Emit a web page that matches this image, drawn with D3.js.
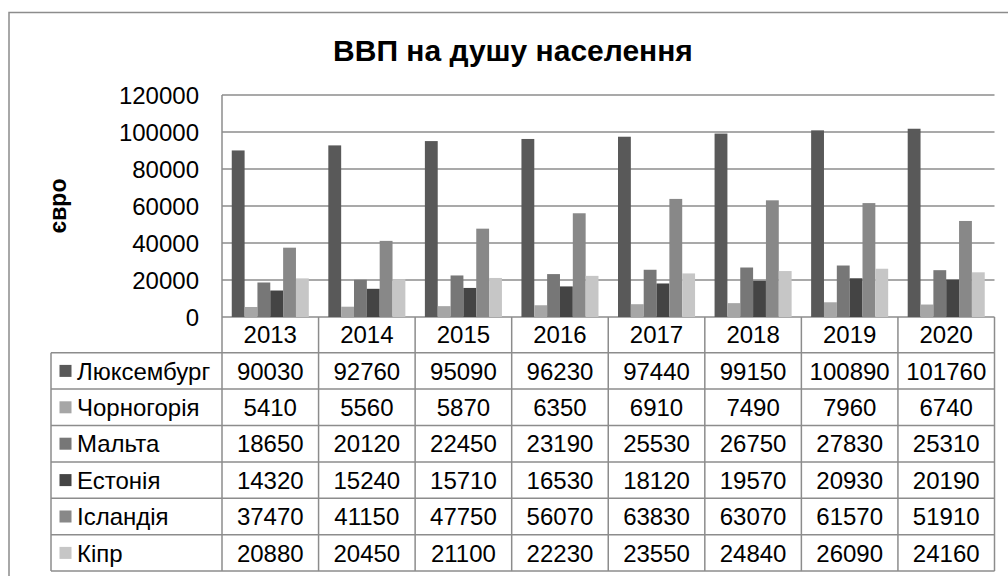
<!DOCTYPE html>
<html><head><meta charset="utf-8">
<script src="https://cdn.jsdelivr.net/npm/d3@7"></script>
<style>body{margin:0;background:#fff}svg{display:block}text{font-family:"Liberation Sans",Arial,sans-serif}</style>
</head><body>
<svg id="c" width="1008" height="576"></svg>
<script>
const years = ["2013","2014","2015","2016","2017","2018","2019","2020"];
const seriesNames = ["Люксембург","Чорногорія","Мальта","Естонія","Ісландія","Кіпр"];
const luxembourg = [90030,92760,95090,96230,97440,99150,100890,101760];
const montenegro = [5410,5560,5870,6350,6910,7490,7960,6740];
const malta = [18650,20120,22450,23190,25530,26750,27830,25310];
const estonia = [14320,15240,15710,16530,18120,19570,20930,20190];
const iceland = [37470,41150,47750,56070,63830,63070,61570,51910];
const cyprus = [20880,20450,21100,22230,23550,24840,26090,24160];
const yTicks = [0,20000,40000,60000,80000,100000,120000];
const seriesValues = [luxembourg, montenegro, malta, estonia, iceland, cyprus];
const colors = ["#595959","#a6a6a6","#777777","#444444","#888888","#c6c6c6"];

const svg = d3.select("#c");
const L = 222, R = 994.5, T = 95, B = 317;
const rowH = 36.4, legL = 51;
const lineCol = "#8c8c8c";
const fs = 24;

// outer border
svg.append("rect").attr("x",9).attr("y",12.5).attr("width",1100).attr("height",700)
  .attr("fill","none").attr("stroke","#8c8c8c").attr("stroke-width",1.5);

svg.append("text").attr("x",513).attr("y",61).attr("text-anchor","middle")
  .attr("font-size",30).attr("font-weight","bold").text("ВВП на душу населення");

const x0 = d3.scaleBand().domain(years).range([L,R]).paddingInner(0).paddingOuter(0);
const x1 = d3.scaleBand().domain(d3.range(seriesNames.length)).range([0,x0.bandwidth()]).paddingOuter(0.76).paddingInner(0);
const y = d3.scaleLinear().domain([0,120000]).range([B,T]);

// gridlines
svg.append("g").selectAll("line").data(yTicks).join("line")
  .attr("x1",L).attr("x2",R).attr("y1",d=>y(d)).attr("y2",d=>y(d))
  .attr("stroke",lineCol).attr("stroke-width",1.5);
svg.append("line").attr("x1",L).attr("x2",L).attr("y1",T).attr("y2",B).attr("stroke",lineCol).attr("stroke-width",1.5);

// y tick labels
svg.append("g").selectAll("text").data(yTicks).join("text")
  .attr("x",199).attr("y",d=>y(d)).attr("dy","0.36em").attr("text-anchor","end")
  .attr("font-size",fs).text(d=>d);

svg.append("text").attr("transform","translate(66,206) rotate(-90)").attr("text-anchor","middle")
  .attr("font-size",23).attr("font-weight","bold").text("євро");

// bars
seriesValues.forEach((vals,si)=>{
  svg.append("g").selectAll("rect").data(vals).join("rect")
    .attr("x",(d,i)=>x0(years[i])+x1(si)).attr("width",x1.bandwidth())
    .attr("y",d=>y(d)).attr("height",d=>B-y(d)).attr("fill",colors[si]);
});

// table
const tg = svg.append("g");
const headTop = B, headBot = B + 35.7;
const tableBot = headBot + rowH*seriesNames.length;
const vx = years.map(yr=>x0(yr)).concat([R]);
tg.selectAll("line.v").data(vx).join("line").attr("class","v")
  .attr("x1",d=>d).attr("x2",d=>d).attr("y1",headTop).attr("y2",tableBot)
  .attr("stroke",lineCol).attr("stroke-width",1.5);
tg.append("line").attr("x1",legL).attr("x2",legL).attr("y1",headBot).attr("y2",tableBot).attr("stroke",lineCol).attr("stroke-width",1.5);
d3.range(seriesNames.length).forEach(i=>{
  const yy = headBot + rowH*(i+1);
  tg.append("line").attr("x1",legL).attr("x2",R).attr("y1",yy).attr("y2",yy).attr("stroke",lineCol).attr("stroke-width",1.5);
});
tg.append("line").attr("x1",legL).attr("x2",R).attr("y1",headBot).attr("y2",headBot).attr("stroke",lineCol).attr("stroke-width",1.5);

// year labels
tg.selectAll("text.yr").data(years).join("text").attr("class","yr")
  .attr("x",d=>x0(d)+x0.bandwidth()/2).attr("y",(headTop+headBot)/2).attr("dy","0.36em")
  .attr("text-anchor","middle").attr("font-size",fs).text(d=>d);

seriesNames.forEach((name,si)=>{
  const cy = headBot + rowH*si + rowH/2;
  tg.append("rect").attr("x",59.5).attr("y",cy-6).attr("width",12).attr("height",12).attr("fill",colors[si]);
  tg.append("text").attr("x",77).attr("y",cy).attr("dy","0.36em").attr("font-size",fs).text(name);
  tg.append("g").selectAll("text").data(seriesValues[si]).join("text")
    .attr("x",(d,i)=>x0(years[i])+x0.bandwidth()/2).attr("y",cy).attr("dy","0.36em")
    .attr("text-anchor","middle").attr("font-size",fs).text(d=>d);
});
</script>
</body></html>
